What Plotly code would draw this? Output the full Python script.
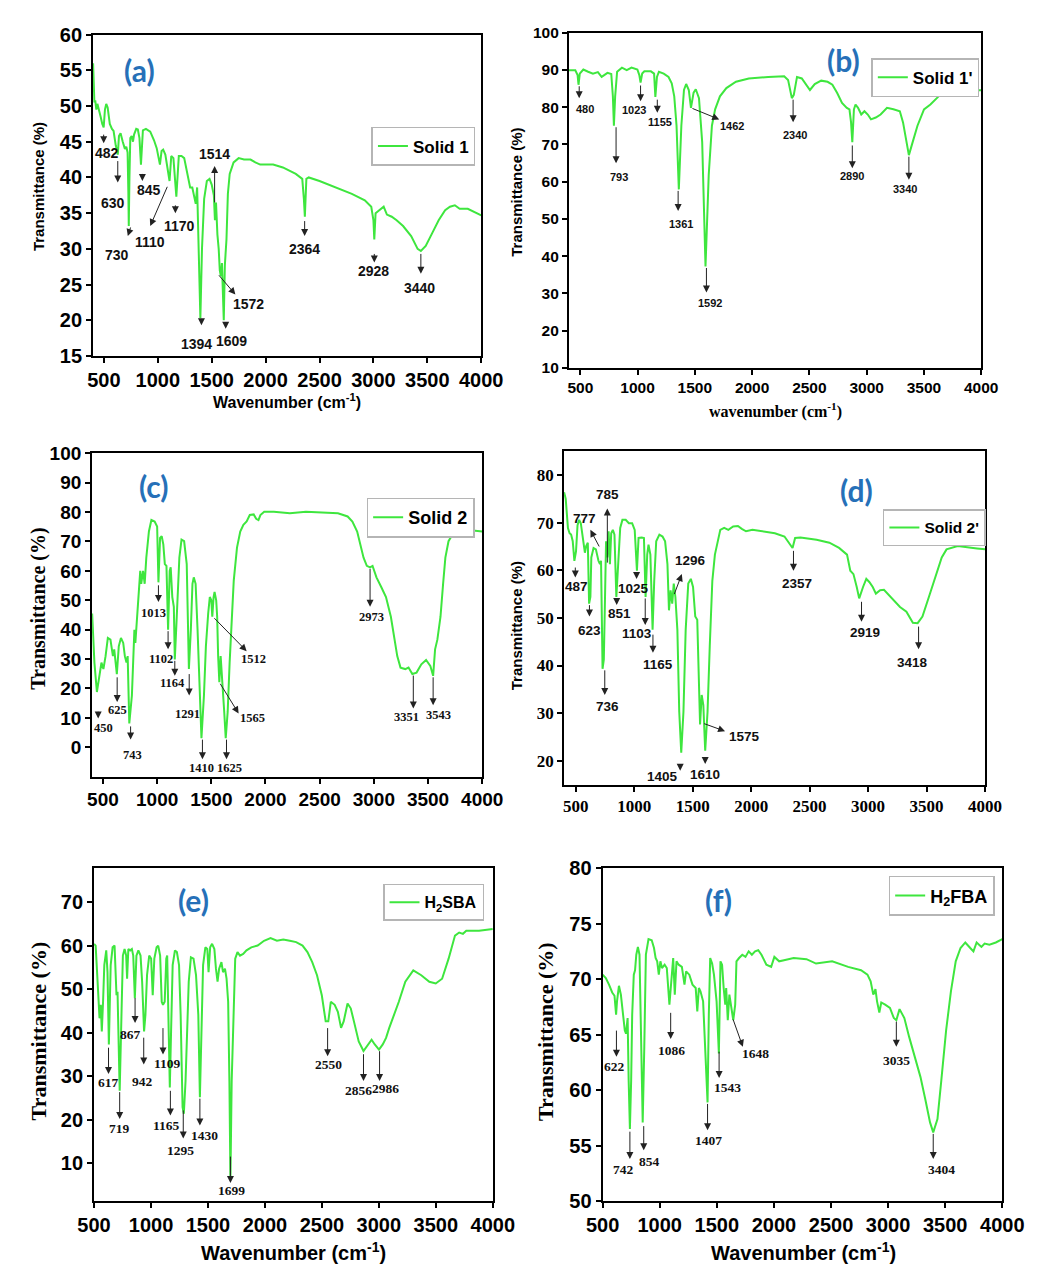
import plotly.graph_objects as go

W, H = 1059, 1284
GREEN = "#3ee63e"
SANS = "Liberation Sans, Arial, sans-serif"
SERIF = "Liberation Serif, Times New Roman, serif"
LETTER_FONT = "Lato, Open Sans, sans-serif"
BLUE = "#2670b8"

# ---------------- data (wavenumber cm-1, transmittance %) ----------------
A_WN = [400, 405, 412, 420, 430, 440, 455, 470, 485, 498, 510, 522, 535, 555, 575, 590, 610, 629, 640, 655,
        675, 695, 708, 720, 727, 731, 737, 745, 758, 770, 780, 800, 815, 830, 844, 852, 862, 890, 930, 965,
        990, 1020, 1035, 1050, 1070, 1109, 1125, 1145, 1172, 1195, 1220, 1245, 1275, 1300, 1320, 1335, 1352,
        1365, 1380, 1395, 1410, 1430, 1455, 1480, 1500, 1520, 1530, 1540, 1553, 1565, 1575, 1585, 1595, 1612,
        1622, 1637, 1650, 1667, 1703, 1750, 1800, 1860, 1905, 1950, 2070, 2160, 2280, 2340, 2355, 2364, 2378,
        2400, 2500, 2650, 2800, 2920, 2980, 3000, 3008, 3020, 3050, 3095, 3125, 3170, 3215, 3275, 3350, 3410,
        3440, 3485, 3545, 3605, 3665, 3710, 3755, 3800, 3875, 3935, 4000]
A_T = [56, 53, 50.5, 50.8, 49.5, 50.3, 49.5, 48.5, 47.5, 47.0, 49.5, 50.3, 49.8, 47.5, 46.8, 46.5, 44.5, 43.2, 45.8, 46.2,
       45.0, 44.0, 44.3, 43.5, 38, 33.2, 40, 45.5, 45.8, 45.0, 46.0, 46.8, 46.7, 45.5, 41.8, 44.5, 46.6, 46.8, 46.4, 45.2,
       44.1, 41.8, 43.7, 43.9, 43.2, 39.5, 43.0, 42.7, 37.3, 43.0, 43.0, 42.7, 40.5, 38.6, 38.6, 37.7, 36.3,
       38.6, 30, 20.3, 30, 37, 39.5, 39.8, 39.0, 37.5, 34, 36.5, 32, 30, 27, 26.2, 28, 20.0,
       27.7, 31.3, 37.7, 40.5, 42.1, 42.7, 42.5, 42.5, 42.1, 41.8, 41.8, 41.4, 40.5, 39.8, 37, 34.5, 39.8,
       40.0, 39.5, 38.6, 37.7, 36.8, 35.9, 34, 31.3, 35.0, 35.4, 35.9, 34.8, 34.5, 34.0, 33.2, 31.8, 30.0,
       29.7, 30.4, 32.2, 34, 35.4, 35.9, 36.1, 35.6, 35.6, 35.2, 34.7]

B_WN = [400, 456, 476, 484, 495, 526, 568, 610, 653, 686, 737, 770, 784, 793, 804, 821, 863, 905, 947, 998,
        1015, 1026, 1040, 1059, 1116, 1144, 1155, 1169, 1186, 1228, 1270, 1298, 1320, 1340, 1360, 1382, 1405,
        1424, 1447, 1466, 1489, 1508, 1536, 1564, 1593, 1621, 1649, 1677, 1719, 1775, 1859, 1971, 2140, 2280,
        2314, 2331, 2347, 2364, 2392, 2434, 2477, 2505, 2547, 2603, 2659, 2701, 2743, 2785, 2827, 2850, 2864,
        2875, 2889, 2903, 2925, 2953, 2981, 3010, 3038, 3080, 3122, 3178, 3234, 3290, 3318, 3346, 3369, 3402,
        3444, 3501, 3557, 3613, 3669, 3781, 3908, 4000]
B_T = [89.9, 89.9, 88.6, 86.0, 89.0, 90.1, 89.5, 89.0, 89.4, 88.1, 89.2, 88.9, 82.9, 75.0, 82.9, 89.5, 90.6, 89.9, 90.6, 90.1,
       88.6, 86.6, 89.0, 89.6, 89.6, 89.0, 82.7, 88.1, 89.5, 89.0, 88.1, 86.4, 82.9, 75.0, 57.9, 75.0, 84.6,
       86.2, 84.6, 79.8, 83.9, 84.8, 82.4, 70.6, 37.2, 61.8, 75.0, 79.4, 82.9, 85.1, 86.8, 87.7, 88.1, 88.3,
       87.3, 84.6, 82.4, 83.3, 88.1, 87.7, 86.0, 84.6, 86.2, 87.1, 86.8, 86.0, 83.8, 81.1, 79.8, 79.4, 75.9,
       70.6, 79.4, 80.7, 79.8, 78.0, 78.9, 78.0, 76.7, 77.2, 78.0, 79.8, 79.4, 78.9, 75.9, 70.6, 67.1, 70.6,
       75.0, 79.4, 80.7, 82.4, 84.2, 84.6, 84.5, 84.5]

C_WN = [400, 421, 444, 465, 486, 504, 524, 545, 569, 592, 604, 628, 646, 666, 687, 702, 717, 728, 743, 767,
        782, 790, 799, 811, 823, 835, 844, 853, 870, 885, 900, 924, 947, 977, 1000, 1012, 1027, 1042, 1057,
        1071, 1086, 1101, 1116, 1125, 1140, 1154, 1163, 1181, 1205, 1225, 1249, 1273, 1293, 1311, 1326, 1338,
        1355, 1373, 1391, 1409, 1432, 1450, 1471, 1486, 1500, 1509, 1521, 1530, 1545, 1554, 1563, 1574, 1586,
        1595, 1607, 1619, 1633, 1651, 1669, 1687, 1707, 1737, 1767, 1796, 1826, 1855, 1891, 1914, 1935, 1953,
        1988, 2077, 2225, 2373, 2521, 2669, 2758, 2802, 2846, 2876, 2905, 2935, 2965, 2988, 3024, 3068, 3112,
        3157, 3186, 3216, 3246, 3290, 3320, 3355, 3394, 3438, 3482, 3521, 3547, 3565, 3586, 3615, 3639, 3660,
        3689, 3734, 3793, 3852, 4000]
C_T = [45.5, 28.8, 18.8, 24.3, 28.8, 26.6, 31.0, 37.2, 36.6, 31.0, 33.3, 24.9, 34.4, 37.2, 35.5, 31.0, 28.8, 31.0, 8.1, 17.6,
       34.4, 40.0, 35.5, 42.2, 48.9, 57.8, 60.0, 55.6, 60.0, 55.6, 64.5, 73.4, 77.3, 76.8, 75.1, 56.1, 71.2, 71.8, 69.0,
       62.3, 61.7, 40.0, 60.0, 61.2, 51.1, 47.8, 29.9, 44.4, 64.5, 70.6, 70.1, 62.3, 26.6, 40.0, 55.6, 57.8,
       55.6, 40.0, 17.6, 3.1, 17.6, 34.4, 45.5, 51.1, 50.0, 44.4, 51.1, 52.8, 50.0, 44.4, 31.0, 22.1, 31.0,
       26.6, 21.0, 12.1, 3.1, 12.1, 28.8, 44.4, 56.7, 67.9, 73.4, 75.7, 76.8, 79.0, 79.2, 77.7, 77.3, 79.0,
       80.1, 80.1, 79.6, 80.1, 79.9, 79.6, 78.5, 76.8, 73.4, 69.0, 64.5, 61.7, 61.2, 61.7, 57.8, 54.5, 51.1,
       44.4, 37.7, 31.0, 27.1, 26.6, 27.1, 24.9, 25.4, 28.2, 29.7, 27.7, 24.3, 33.3, 36.6, 44.4, 55.6, 64.5,
       70.1, 72.9, 73.7, 74.0, 73.4]

D_WN = [400, 414, 433, 447, 460, 474, 488, 502, 515, 529, 543, 562, 578, 589, 603, 614, 625, 633, 652, 672,
        694, 707, 716, 729, 740, 748, 759, 770, 781, 792, 803, 817, 831, 847, 864, 880, 899, 927, 954, 982,
        1004, 1023, 1037, 1064, 1083, 1097, 1111, 1122, 1138, 1157, 1171, 1188, 1215, 1242, 1264, 1284, 1297,
        1311, 1325, 1338, 1352, 1369, 1385, 1402, 1421, 1440, 1462, 1484, 1503, 1522, 1539, 1550, 1563, 1577,
        1591, 1607, 1627, 1646, 1668, 1690, 1709, 1736, 1769, 1805, 1846, 1887, 1920, 1956, 2011, 2093, 2203,
        2285, 2326, 2354, 2376, 2422, 2560, 2669, 2752, 2820, 2848, 2875, 2903, 2924, 2957, 2985, 3012, 3040,
        3067, 3103, 3136, 3191, 3273, 3328, 3383, 3424, 3465, 3520, 3575, 3630, 3671, 3712, 3767, 3932, 4000]
D_T = [76.4, 75.0, 68.9, 67.8, 67.5, 66.1, 62.0, 64.0, 69.5, 70.6, 69.9, 66.8, 63.7, 65.1, 65.8, 53.0, 54.4, 62.7, 64.7, 64.4,
       62.0, 61.3, 62.0, 39.3, 41.3, 51.6, 66.1, 62.7, 68.2, 61.3, 67.8, 68.5, 67.5, 54.4, 61.3, 68.9, 70.6, 70.6, 69.9, 69.9,
       68.5, 59.9, 66.8, 66.9, 66.8, 54.4, 63.3, 65.4, 63.3, 47.5, 57.8, 66.1, 67.5, 67.1, 66.1, 61.3, 51.6,
       55.8, 53.0, 57.2, 54.4, 47.5, 30.3, 21.7, 30.3, 47.5, 57.2, 58.2, 56.5, 50.3, 49.6, 40.6, 27.6, 33.8,
       31.7, 22.1, 30.3, 44.1, 57.8, 63.3, 65.4, 68.5, 68.9, 68.5, 69.2, 69.3, 68.7, 68.2, 68.5, 68.2, 67.8,
       67.1, 65.8, 64.7, 66.8, 66.9, 66.4, 65.8, 64.7, 63.3, 59.9, 59.2, 56.5, 54.1, 56.5, 58.2, 57.5, 56.5,
       55.1, 55.8, 55.9, 54.4, 52.3, 51.3, 49.0, 48.9, 50.3, 54.4, 58.5, 62.7, 64.4, 64.7, 65.1, 64.6, 64.4]

E_WN = [500, 514, 528, 537, 548, 559, 568, 579, 590, 607, 618, 630, 646, 663, 680, 697, 706, 725, 739, 753,
        768, 782, 790, 801, 818, 832, 844, 858, 872, 889, 908, 922, 939, 951, 965, 984, 1001, 1015, 1029, 1049,
        1063, 1080, 1094, 1105, 1120, 1134, 1142, 1153, 1165, 1176, 1190, 1210, 1227, 1246, 1260, 1277, 1288,
        1303, 1317, 1331, 1350, 1373, 1395, 1415, 1429, 1443, 1457, 1477, 1494, 1505, 1519, 1536, 1556, 1570,
        1584, 1598, 1618, 1632, 1649, 1663, 1677, 1688, 1697, 1708, 1725, 1739, 1759, 1781, 1809, 1838, 1880,
        1936, 1992, 2049, 2105, 2161, 2218, 2274, 2330, 2373, 2415, 2457, 2499, 2533, 2556, 2578, 2612, 2640,
        2668, 2691, 2725, 2753, 2781, 2823, 2865, 2908, 2936, 2964, 3001, 3034, 3063, 3091, 3133, 3175, 3232,
        3302, 3372, 3443, 3499, 3555, 3612, 3668, 3705, 3738, 3767, 3879, 4000]
E_T = [60.4, 60.0, 53.2, 47.1, 43.3, 46.4, 40.3, 47.1, 55.5, 58.9, 53.9, 37.3, 55.5, 59.6, 60.0, 48.6, 49.4, 26.7, 44.1, 57.7,
       59.2, 57.7, 52.4, 59.2, 58.9, 59.2, 57.7, 47.9, 57.7, 58.9, 57.7, 51.7, 40.3, 44.1, 53.2, 57.7, 57.0, 48.6, 57.0, 59.6,
       60.0, 57.7, 47.1, 46.4, 47.1, 57.0, 57.7, 44.1, 27.4, 40.3, 55.5, 58.9, 58.5, 55.5, 44.1, 22.9, 21.4,
       28.9, 41.1, 51.7, 57.3, 57.0, 53.2, 44.1, 25.2, 40.3, 55.5, 59.6, 59.2, 53.9, 59.6, 60.4, 59.2, 54.7,
       51.7, 54.7, 56.2, 53.9, 54.7, 52.4, 47.1, 28.9, 6.2, 28.9, 47.9, 57.0, 58.5, 57.7, 58.1, 58.9, 59.6,
       60.0, 61.1, 61.7, 61.1, 61.4, 61.1, 60.8, 60.0, 58.5, 56.2, 53.2, 48.6, 42.6, 42.6, 47.1, 46.4, 44.8,
       41.1, 42.6, 46.7, 45.6, 42.6, 38.0, 35.8, 37.3, 38.4, 37.3, 36.1, 37.3, 38.8, 41.1, 44.1, 47.1, 51.7,
       54.3, 53.2, 51.7, 51.3, 52.4, 57.0, 62.3, 63.0, 62.7, 63.4, 63.4, 63.8]

F_WN = [500, 528, 556, 584, 604, 618, 626, 643, 660, 677, 694, 705, 719, 728, 739, 750, 759, 773, 784, 795,
        809, 823, 837, 851, 865, 879, 902, 930, 950, 964, 978, 992, 1006, 1020, 1043, 1062, 1085, 1104, 1118,
        1132, 1147, 1166, 1194, 1217, 1231, 1259, 1287, 1315, 1329, 1343, 1357, 1380, 1400, 1419, 1430, 1442,
        1459, 1475, 1498, 1518, 1532, 1546, 1560, 1574, 1582, 1596, 1610, 1630, 1644, 1661, 1672, 1695, 1723,
        1751, 1779, 1807, 1835, 1863, 1891, 1934, 1976, 2004, 2046, 2088, 2173, 2285, 2369, 2510, 2650, 2763,
        2819, 2847, 2870, 2889, 2903, 2923, 2940, 2974, 3016, 3050, 3072, 3100, 3142, 3184, 3241, 3283, 3325,
        3367, 3395, 3432, 3466, 3508, 3550, 3592, 3634, 3676, 3719, 3747, 3775, 3817, 3845, 3887, 3943, 4000]
F_T = [70.4, 70.1, 69.5, 68.8, 68.5, 66.8, 68.0, 69.4, 68.6, 66.8, 65.4, 65.1, 66.5, 60.9, 56.5, 60.9, 66.8, 70.4, 70.8, 72.2,
       72.9, 72.2, 63.9, 57.1, 63.9, 72.2, 73.6, 73.5, 72.8, 71.9, 71.6, 70.4, 71.6, 71.0, 71.3, 71.0, 67.7, 70.7, 71.9,
       68.6, 71.6, 71.3, 71.1, 69.5, 70.7, 70.4, 69.5, 69.2, 67.1, 69.2, 68.9, 68.0, 63.9, 58.9, 66.8, 71.9,
       71.4, 70.4, 68.0, 63.3, 71.6, 71.3, 69.2, 67.7, 69.2, 66.3, 68.6, 67.1, 66.3, 67.7, 71.6, 71.9, 72.2,
       72.0, 72.5, 72.2, 72.5, 72.6, 72.2, 71.3, 71.1, 72.0, 71.6, 71.7, 71.9, 71.8, 71.4, 71.6, 71.1, 70.8,
       70.4, 69.8, 68.6, 69.1, 68.0, 67.0, 67.9, 67.7, 67.4, 66.5, 66.3, 67.3, 66.5, 64.8, 62.7, 61.2, 59.2,
       57.1, 56.2, 57.4, 60.9, 65.4, 68.9, 71.6, 72.8, 73.3, 72.8, 72.5, 73.3, 72.9, 73.2, 73.1, 73.3, 73.6]

SERIES_NAMES = ["Solid 1", "Solid 1'", "Solid 2", "Solid 2'", "H<sub>2</sub>SBA", "H<sub>2</sub>FBA"]
X_TICKS = [500, 1000, 1500, 2000, 2500, 3000, 3500, 4000]

# ---------------- peak-label annotation specs: (label, tail x, tail y, head x, head y, text x, text y) ----------------
A_MARKS = [("482", 498, 46.2, 498, 44.8, 528, 43.4), ("630", 629, 42.5, 629, 39.3, 588, 36.4),
           ("730", 752, 33.2, 722, 31.8, 618, 29.1), ("845", 857, 40.7, 857, 39.5, 916, 38.2),
           ("1110", 1094, 38.9, 930, 33.2, 930, 31.0), ("1170", 1163, 36.3, 1163, 35.0, 1199, 33.2),
           ("1394", 1405, 20.4, 1405, 19.3, 1356, 16.7), ("1609", 1630, 19.9, 1630, 18.8, 1684, 17.1),
           ("1514", 1527, 36.3, 1527, 41.6, 1527, 43.3), ("1572", 1556, 26.5, 1720, 23.6, 1839, 22.3),
           ("2364", 2362, 34.1, 2362, 31.8, 2364, 30.0), ("2928", 3008, 29.5, 3008, 28.1, 3002, 26.9),
           ("3440", 3440, 29.5, 3440, 26.5, 3431, 24.5)]
B_MARKS = [("480", 490, 86.0, 490, 82.4, 540, 79.5), ("793", 812, 75.0, 812, 64.9, 835, 61.1),
           ("1023", 1026, 86.2, 1026, 81.6, 970, 79.2), ("1155", 1172, 82.4, 1172, 78.5, 1194, 75.9),
           ("1361", 1354, 57.9, 1354, 52.1, 1376, 48.5), ("1462", 1466, 79.8, 1713, 76.7, 1823, 74.8),
           ("1592", 1601, 37.2, 1601, 30.2, 1629, 27.3), ("2340", 2358, 82.4, 2358, 75.9, 2378, 72.6),
           ("2890", 2875, 70.1, 2875, 63.6, 2875, 61.4), ("3340", 3369, 67.1, 3369, 60.5, 3332, 57.9)]
C_MARKS = [("450", 456, 12.6, 456, 9.8, 509, 6.7), ("625", 631, 24.3, 631, 15.4, 637, 12.6),
           ("743", 755, 7.6, 755, 2.6, 776, -2.8), ("1013", 1012, 55.6, 1012, 49.4, 968, 45.5),
           ("1102", 1101, 40.0, 1101, 33.3, 1033, 29.9), ("1164", 1163, 29.9, 1163, 24.3, 1145, 21.9),
           ("1291", 1296, 25.4, 1296, 17.6, 1279, 11.2), ("1410", 1418, 3.1, 1418, -4.1, 1406, -6.9),
           ("1625", 1640, 3.1, 1640, -4.1, 1669, -6.9), ("1512", 1515, 44.4, 1826, 32.7, 1890, 30.0),
           ("1565", 1574, 22.1, 1752, 11.5, 1876, 10.0), ("2973", 2965, 61.2, 2965, 47.8, 2979, 44.4),
           ("3351", 3364, 24.9, 3364, 13.2, 3305, 10.4), ("3543", 3547, 24.3, 3547, 14.3, 3595, 10.9)]
D_MARKS = [("487", 496, 60.9, 496, 58.5, 507, 56.6), ("777", 707, 64.7, 625, 68.5, 578, 70.8),
           ("785", 770, 61.3, 770, 73.0, 770, 75.9), ("623", 617, 53.0, 617, 50.3, 620, 47.4),
           ("736", 748, 39.3, 748, 33.8, 770, 31.3), ("851", 850, 54.4, 850, 52.7, 872, 51.0),
           ("1025", 1020, 59.9, 1020, 58.2, 990, 56.1), ("1103", 1094, 54.4, 1094, 48.5, 1023, 46.7),
           ("1165", 1160, 46.8, 1160, 42.7, 1201, 40.3), ("1296", 1338, 54.7, 1407, 59.2, 1484, 62.0),
           ("1405", 1393, 19.6, 1393, 17.9, 1242, 16.7), ("1610", 1607, 21.0, 1607, 19.3, 1607, 17.2),
           ("1575", 1585, 27.9, 1777, 26.2, 1942, 25.1), ("2357", 2362, 64.4, 2362, 59.9, 2389, 57.3),
           ("2919", 2944, 53.7, 2944, 49.2, 2977, 47.0), ("3418", 3432, 48.5, 3432, 43.4, 3377, 40.6)]
E_MARKS = [("617", 627, 36.9, 627, 30.5, 627, 28.6), ("719", 725, 26.7, 725, 20.2, 720, 18.0),
           ("867", 860, 48.3, 860, 42.2, 824, 39.5), ("942", 936, 39.2, 936, 32.7, 922, 28.9),
           ("1109", 1105, 41.4, 1105, 35.0, 1148, 32.9), ("1165", 1170, 27.0, 1170, 21.0, 1134, 18.6),
           ("1295", 1283, 22.5, 1283, 15.7, 1255, 12.9), ("1430", 1429, 25.2, 1429, 18.7, 1471, 16.4),
           ("1699", 1697, 11.9, 1697, 5.5, 1705, 3.8), ("2550", 2550, 41.4, 2550, 34.6, 2556, 32.6),
           ("2856", 2865, 35.4, 2865, 28.9, 2823, 26.8), ("2986", 3006, 36.1, 3006, 28.9, 3062, 27.3)]
F_MARKS = [("622", 621, 65.5, 621, 63.0, 604, 62.1), ("742", 739, 56.4, 739, 53.8, 683, 52.9),
           ("854", 860, 56.9, 860, 54.6, 913, 53.6), ("1086", 1096, 67.1, 1096, 64.6, 1104, 63.6),
           ("1407", 1419, 58.9, 1419, 56.4, 1428, 55.5), ("1543", 1520, 63.6, 1520, 61.1, 1596, 60.2),
           ("1648", 1638, 66.5, 1728, 63.9, 1835, 63.3), ("3035", 3072, 66.3, 3072, 63.9, 3072, 62.7),
           ("3404", 3395, 56.2, 3395, 53.8, 3466, 52.9)]

# ---------------- panel layout (pixel boxes, fonts) ----------------
PANELS = [
    dict(wn=A_WN, t=A_T, name=SERIES_NAMES[0], marks=A_MARKS, letter="(a)", letter_pos=(127, 60),
         box=(79, 482, 24, 351), xr=[400, 4000], yr=[15, 60], yt=list(range(15, 61, 5)), xt=X_TICKS,
         tick_font=(SANS, 20), ytitle=("Transmittance (%)", SANS, 15, 23, 179),
         xtitle=("Wavenumber (cm<sup>-1</sup>)", SANS, 16, 280, 397),
         legend=(368, 118, 17), label_font=(SANS, 14)),
    dict(wn=B_WN, t=B_T, name=SERIES_NAMES[1], marks=B_MARKS, letter="(b)", letter_pos=(858, 50),
         box=(573, 1001, 22, 363), xr=[400, 4000], yr=[10, 100], yt=list(range(10, 101, 10)), xt=X_TICKS,
         tick_font=(SANS, 15.5), ytitle=("Transmittance (%)", SANS, 15, 519, 184),
         xtitle=("wavenumber (cm<sup>-1</sup>)", SERIF, 16, 787, 406),
         legend=(887, 48, 17), label_font=(SANS, 11)),
    dict(wn=C_WN, t=C_T, name=SERIES_NAMES[2], marks=C_MARKS, letter="(c)", letter_pos=(142, 483),
         box=(78, 483, 450, 779), xr=[400, 4000], yr=[-10, 100], yt=list(range(0, 101, 10)), xt=X_TICKS,
         tick_font=(SANS, 19), ytitle=("Transmittance (%)", SERIF, 20, 22, 608), xtitle=None,
         legend=(363, 495, 18), label_font=(SERIF, 12.5)),
    dict(wn=D_WN, t=D_T, name=SERIES_NAMES[3], marks=D_MARKS, letter="(d)", letter_pos=(872, 487),
         box=(568, 1005, 448, 787), xr=[400, 4000], yr=[15, 85], yt=list(range(20, 81, 10)), xt=X_TICKS,
         tick_font=(SERIF, 17), ytitle=("Transmittance (%)", SANS, 15, 518, 625), xtitle=None,
         legend=(899, 507, 15.5), label_font=(SANS, 13.5)),
    dict(wn=E_WN, t=E_T, name=SERIES_NAMES[4], marks=E_MARKS, letter="(e)", letter_pos=(183, 905),
         box=(80, 494, 872, 1211), xr=[500, 4000], yr=[1.3, 77.8], yt=list(range(10, 71, 10)), xt=X_TICKS,
         tick_font=(SANS, 20), ytitle=("Transmittance (%)", SERIF, 22, 22, 1038),
         xtitle=("Wavenumber (cm<sup>-1</sup>)", SANS, 20, 287, 1262),
         legend=(380, 888, 16), label_font=(SERIF, 13.5)),
    dict(wn=F_WN, t=F_T, name=SERIES_NAMES[5], marks=F_MARKS, letter="(f)", letter_pos=(728, 905),
         box=(608, 1023, 872, 1211), xr=[500, 4000], yr=[50, 80], yt=list(range(50, 81, 5)), xt=X_TICKS,
         tick_font=(SANS, 20), ytitle=("Transmittance (%)", SERIF, 22, 548, 1038),
         xtitle=("Wavenumber (cm<sup>-1</sup>)", SANS, 20, 817, 1262),
         legend=(905, 880, 18), label_font=(SERIF, 13.5)),
]


def px(x, y):
    return x / W, 1 - y / H


fig = go.Figure()
layout = dict(width=W, height=H, margin=dict(l=0, r=0, t=0, b=0), paper_bgcolor="white",
              plot_bgcolor="white", showlegend=True)
annotations = []

for i, p in enumerate(PANELS):
    n = "" if i == 0 else str(i + 1)
    xref, yref = "x" + n, "y" + n
    lg = "legend" + n
    x0, x1, y0, y1 = p["box"]
    fam, fs = p["tick_font"]
    fig.add_trace(go.Scatter(x=p["wn"], y=p["t"], mode="lines", name=p["name"],
                             line=dict(color=GREEN, width=2), xaxis=xref, yaxis=yref,
                             legend=lg, showlegend=True, hoverinfo="skip"))
    common = dict(showline=True, linecolor="black", linewidth=2, mirror=True, ticks="outside",
                  ticklen=5, tickwidth=1.5, tickcolor="black", showgrid=False, zeroline=False,
                  tickfont=dict(family=fam, size=fs, color="black", weight="bold"))
    layout["xaxis" + n] = dict(domain=[x0 / W, x1 / W], range=p["xr"], anchor=yref,
                               tickvals=p["xt"], **common)
    layout["yaxis" + n] = dict(domain=[1 - y1 / H, 1 - y0 / H], range=p["yr"], anchor=xref,
                               tickvals=p["yt"], **common)
    lx, ly, lfs = p["legend"]
    layout[lg] = dict(x=lx / W, y=1 - ly / H, xanchor="left", yanchor="top", xref="paper", yref="paper",
                      bgcolor="white", bordercolor="#b5b5b5", borderwidth=1.5,
                      font=dict(family=SANS, size=lfs, color="black", weight="bold"))

    # titles
    t, tfam, tfs, tx, ty = p["ytitle"]
    ax_, ay_ = px(tx, ty)
    annotations.append(dict(text="<b>" + t + "</b>", x=ax_, y=ay_, xref="paper", yref="paper",
                            showarrow=False, textangle=-90, xanchor="center", yanchor="middle",
                            font=dict(family=tfam, size=tfs, color="black")))
    if p["xtitle"]:
        t, tfam, tfs, tx, ty = p["xtitle"]
        ax_, ay_ = px(tx, ty)
        annotations.append(dict(text="<b>" + t + "</b>", x=ax_, y=ay_, xref="paper", yref="paper",
                                showarrow=False, xanchor="center", yanchor="middle",
                                font=dict(family=tfam, size=tfs, color="black")))
    # panel letter
    lx_, ly_ = px(*p["letter_pos"])
    annotations.append(dict(text="<b>" + p["letter"] + "</b>", x=lx_, y=ly_, xref="paper", yref="paper",
                            showarrow=False, xanchor="center", yanchor="middle",
                            font=dict(family=LETTER_FONT, size=30, color=BLUE)))
    # peak labels and arrows
    lfam, lsize = p["label_font"]
    for lab, tx0, ty0, hx, hy, txx, tyy in p["marks"]:
        annotations.append(dict(x=hx, y=hy, ax=tx0, ay=ty0, xref=xref, yref=yref, axref=xref, ayref=yref,
                                text="", showarrow=True, arrowhead=2, arrowsize=1.4, arrowwidth=1,
                                arrowcolor="#222222", standoff=0, startstandoff=0))
        annotations.append(dict(x=txx, y=tyy, xref=xref, yref=yref, text="<b>" + lab + "</b>",
                                showarrow=False, xanchor="center", yanchor="middle",
                                font=dict(family=lfam, size=lsize, color="#111111")))

layout["annotations"] = annotations
fig.update_layout(**layout)
fig.write_html("out.html")
